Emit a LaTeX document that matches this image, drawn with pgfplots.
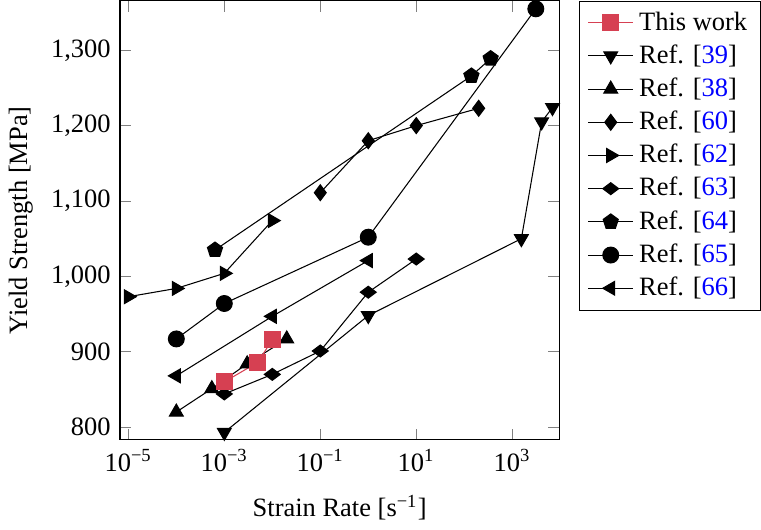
\documentclass[border=0pt]{standalone}
\usepackage{fontspec}
\setmainfont{Liberation Serif}
\usepackage{pgfplots}
\pgfplotsset{compat=1.18}
\definecolor{myred}{RGB}{214,64,82}
\begin{document}
\begin{tikzpicture}
\begin{axis}[
  scale only axis, width=166pt, height=166pt,
  xmode=log, xmin=6.7e-6, xmax=9.6e3, ymin=783, ymax=1366,
  xtick={1e-5,1e-3,1e-1,1e1,1e3},
  xticklabels={10\textsuperscript{−5},10\textsuperscript{−3},10\textsuperscript{−1},10\textsuperscript{1},10\textsuperscript{3}},
  minor xtick={},
  ytick={800,900,1000,1100,1200,1300},
  yticklabels={800,900,{1,000},{1,100},{1,200},{1,300}},
  xlabel={Strain Rate [s\textsuperscript{−1}]},
  xlabel style={yshift=-2pt},
  ylabel={Yield Strength [MPa]},
  legend style={at={(1.045,1)}, anchor=north west, draw=black, cells={anchor=west}},
  mark size=3pt,
]
\addlegendimage{myred, mark=square*, mark size=3pt}
\addlegendentry{This work}
\addplot[black, mark=triangle*, mark options={rotate=180}] coordinates {(1e-3,793) (1,948) (1550,1050) (4100,1205) (6900,1224)};
\addlegendentry{Ref. [\textcolor{blue}{39}]}
\addplot[black, mark=triangle*] coordinates {(1e-4,820) (5.5e-4,851) (3e-3,884) (2e-2,917)};
\addlegendentry{Ref. [\textcolor{blue}{38}]}
\addplot[black, mark=diamond*] coordinates {(0.1,1111) (1,1180) (10,1200) (200,1223)};
\addlegendentry{Ref. [\textcolor{blue}{60}]}
\addplot[black, mark=triangle*, mark options={rotate=-90}] coordinates {(1e-5,973) (1e-4,984) (1e-3,1004) (1e-2,1074)};
\addlegendentry{Ref. [\textcolor{blue}{62}]}
\addplot[black, mark=diamond*, mark options={rotate=90}] coordinates {(1e-3,844) (1e-2,870) (0.1,901) (1,979) (10,1023)};
\addlegendentry{Ref. [\textcolor{blue}{63}]}
\addplot[black, mark=pentagon*] coordinates {(6.4e-4,1035) (141,1266) (355,1289)};
\addlegendentry{Ref. [\textcolor{blue}{64}]}
\addplot[black, mark=*] coordinates {(1e-4,917) (1e-3,964) (1,1052) (3100,1355)};
\addlegendentry{Ref. [\textcolor{blue}{65}]}
\addplot[black, mark=triangle*, mark options={rotate=90}] coordinates {(1e-4,868) (1e-2,947) (1,1021)};
\addlegendentry{Ref. [\textcolor{blue}{66}]}
\addplot[myred, mark=square*, forget plot] coordinates {(1e-3,860) (5e-3,886) (1e-2,916)};
\end{axis}
\end{tikzpicture}
\end{document}
